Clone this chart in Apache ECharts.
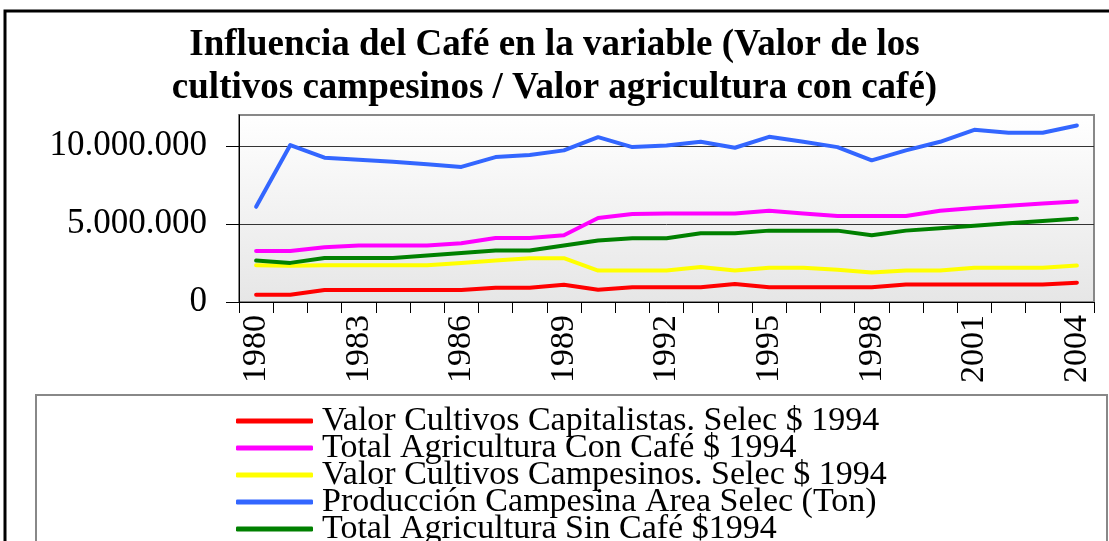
<!DOCTYPE html>
<html>
<head>
<meta charset="utf-8">
<script src="https://cdn.jsdelivr.net/npm/echarts@6/dist/echarts.min.js"></script>
<style>
  html, body { margin: 0; padding: 0; background: #fff; }
  #chartLine { width: 1109px; height: 541px; }
</style>
</head>
<body>
<div id="chartLine"></div>
<script>
  const years = ['1980', '1981', '1982', '1983', '1984', '1985', '1986', '1987', '1988', '1989', '1990', '1991', '1992',
    '1993', '1994', '1995', '1996', '1997', '1998', '1999', '2000', '2001', '2002', '2003', '2004']
  const yTicks = [0, 5000000, 10000000]

  const capitalistas = [470000, 470000, 770000, 770000, 770000, 770000, 770000, 920000, 920000, 1110000, 790000, 940000,
    940000, 940000, 1150000, 940000, 940000, 940000, 940000, 1130000, 1130000, 1130000, 1130000, 1130000, 1240000]
  const conCafe = [3280000, 3280000, 3510000, 3620000, 3620000, 3620000, 3770000, 4110000, 4110000, 4280000, 5390000, 5640000,
    5680000, 5680000, 5680000, 5860000, 5680000, 5520000, 5520000, 5520000, 5860000, 6030000, 6170000, 6320000, 6450000]
  const campesinos = [2360000, 2320000, 2360000, 2360000, 2360000, 2360000, 2510000, 2660000, 2810000, 2810000, 2020000, 2020000,
    2020000, 2240000, 2020000, 2200000, 2200000, 2070000, 1900000, 2020000, 2020000, 2200000, 2200000, 2200000, 2340000]
  const produccion = [6110000, 10070000, 9260000, 9130000, 9000000, 8840000, 8670000, 9300000, 9430000, 9730000, 10580000, 9940000,
    10050000, 10280000, 9900000, 10600000, 10280000, 9940000, 9090000, 9730000, 10280000, 11050000, 10860000, 10860000, 11330000]
  const sinCafe = [2660000, 2510000, 2830000, 2830000, 2830000, 2980000, 3150000, 3300000, 3300000, 3620000, 3940000, 4090000,
    4090000, 4410000, 4410000, 4580000, 4580000, 4580000, 4280000, 4580000, 4730000, 4900000, 5050000, 5200000, 5350000]

  const names = [
    'Valor Cultivos Capitalistas. Selec $ 1994',
    'Total Agricultura Con Café $ 1994',
    'Valor Cultivos Campesinos. Selec $ 1994',
    'Producción Campesina Area Selec (Ton)',
    'Total Agricultura Sin Café $1994'
  ]
  const colors = ['#ff0000', '#ff00ff', '#ffff00', '#3366ff', '#008000']
  const values = [capitalistas, conCafe, campesinos, produccion, sinCafe]

  const serif = '"Liberation Serif", "DejaVu Serif", serif'

  function fmt(v) {
    return String(v).replace(/\B(?=(\d{3})+(?!\d))/g, '.')
  }

  const myChart = echarts.init(document.getElementById('chartLine'))
  const option = {
    backgroundColor: '#fff',
    color: colors,
    title: {
      text: 'Influencia del Café en la variable (Valor de los\ncultivos campesinos / Valor agricultura con café)',
      left: 'center',
      top: 19,
      textStyle: {
        fontFamily: serif,
        fontWeight: 'bold',
        fontSize: 37,
        lineHeight: 43,
        color: '#000'
      }
    },
    legend: {
      orient: 'vertical',
      left: 236,
      top: 404,
      height: 300,
      padding: 0,
      itemGap: -7,
      itemWidth: 77,
      itemHeight: 5,
      icon: 'roundRect',
      textStyle: {
        fontFamily: serif,
        fontSize: 34,
        color: '#000',
        padding: [0, 0, 0, 4]
      },
      data: names
    },
    grid: {
      left: 239,
      top: 115,
      right: 15,
      bottom: 239,
      show: true,
      borderColor: '#888',
      borderWidth: 2,
      backgroundColor: new echarts.graphic.LinearGradient(0, 0, 0, 1, [
        { offset: 0, color: '#ffffff' },
        { offset: 1, color: '#e6e6e6' }
      ])
    },
    graphic: [{
      type: 'rect',
      shape: { x: 5, y: 11, width: 1300, height: 700 },
      style: { fill: 'none', stroke: '#000', lineWidth: 3 },
      silent: true
    }, {
      type: 'rect',
      shape: { x: 36, y: 395, width: 1071, height: 300 },
      style: { fill: 'none', stroke: '#888', lineWidth: 2 },
      silent: true
    }],
    xAxis: {
      type: 'category',
      data: years,
      boundaryGap: true,
      axisLine: { lineStyle: { color: '#000', width: 1 } },
      axisTick: { show: true, interval: 0, length: 11, lineStyle: { color: '#000' } },
      axisLabel: {
        interval: 2,
        rotate: 90,
        margin: 13,
        fontFamily: serif,
        fontSize: 34,
        color: '#000'
      },
      splitLine: { show: false }
    },
    yAxis: {
      type: 'value',
      min: 0,
      max: 12000000,
      interval: 5000000,
      axisLine: { show: true, lineStyle: { color: '#000', width: 1 } },
      axisTick: { show: true, length: 13, customValues: yTicks, lineStyle: { color: '#000' } },
      axisLabel: {
        customValues: yTicks,
        margin: 32,
        fontFamily: serif,
        fontSize: 35,
        color: '#000',
        formatter: fmt
      },
      splitLine: { show: true, lineStyle: { color: '#333', width: 1 } }
    },
    series: names.map((name, i) => ({
      name: name,
      type: 'line',
      data: values[i],
      showSymbol: false,
      symbol: 'none',
      lineStyle: { width: 4, color: colors[i], cap: 'round', join: 'round' },
      itemStyle: { color: colors[i] },
      animation: false
    }))
  }
  myChart.setOption(option)
</script>
</body>
</html>
